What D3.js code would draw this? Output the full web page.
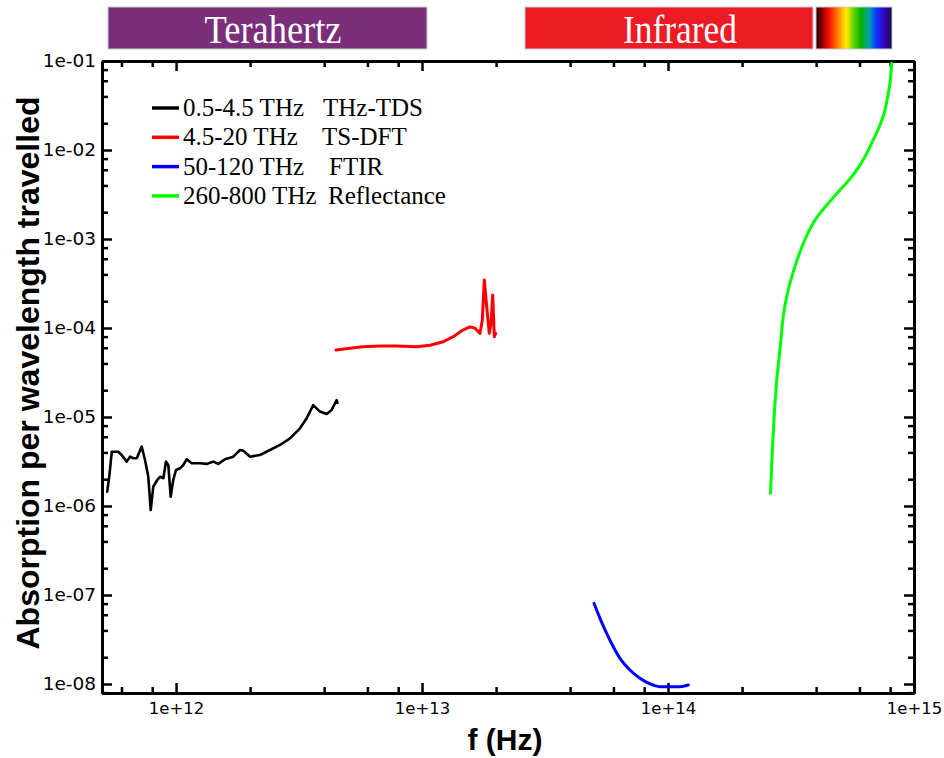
<!DOCTYPE html>
<html><head><meta charset="utf-8">
<script src="https://cdn.jsdelivr.net/npm/d3@7"></script>
<style>body{margin:0;background:#fff}</style>
</head><body><svg id="c" width="944" height="758"></svg>
<script>
// ---- data (frequency in THz, absorption per wavelength) ----
const tdsF = [0.525,0.535,0.548,0.582,0.601,0.630,0.650,0.670,0.692,0.725,0.748,0.771,0.789,0.808,0.839,0.861,0.888,0.910,0.930,0.951,0.974,1.000,1.038,1.070,1.105,1.158,1.251,1.332,1.417,1.485,1.581,1.709,1.820,1.877,2.000,2.194,2.409,2.646,2.905,3.190,3.396,3.612,3.846,4.095,4.291,4.498,4.530];
const tdsV = [1.45e-6,2.13e-6,4.07e-6,4.07e-6,3.74e-6,3.15e-6,3.58e-6,3.44e-6,3.44e-6,4.64e-6,3.29e-6,2.13e-6,9.0e-7,1.65e-6,1.96e-6,2.13e-6,2.05e-6,3.15e-6,2.89e-6,1.27e-6,1.96e-6,2.54e-6,2.65e-6,2.89e-6,3.35e-6,3.02e-6,3.02e-6,2.97e-6,3.15e-6,2.97e-6,3.35e-6,3.58e-6,4.26e-6,4.18e-6,3.58e-6,3.74e-6,4.26e-6,4.85e-6,5.76e-6,7.46e-6,9.67e-6,1.36e-5,1.15e-5,1.08e-5,1.20e-5,1.55e-5,1.44e-5];
const dftF = [4.47,5.09,5.77,6.75,7.89,9.51,10.77,12.20,13.40,14.50,15.66,16.42,17.21,17.58,17.91,18.32,18.77,19.07,19.38,19.67,19.93];
const dftV = [5.66e-5,5.91e-5,6.16e-5,6.28e-5,6.28e-5,6.16e-5,6.39e-5,7.01e-5,7.98e-5,9.33e-5,1.03e-4,9.92e-5,8.72e-5,1.23e-4,3.46e-4,1.74e-4,8.72e-5,1.13e-4,2.35e-4,7.98e-5,8.72e-5];
const ftirF = [50.0,52.9,56.3,59.9,63.8,70.0,76.9,84.5,92.7,101.8,111.8,120.9];
const ftirV = [8.07e-8,5.47e-8,3.71e-8,2.62e-8,1.94e-8,1.437e-8,1.159e-8,1.0e-8,9.33e-9,9.33e-9,9.33e-9,9.74e-9];
const reflF = [261,264,270,276,285,294,308,328,355,389,442,500,566,632,683,727,762,786,804,811];
const reflV = [1.389e-6,3.02e-6,1.008e-5,2.39e-5,5.66e-5,1.34e-4,2.67e-4,4.88e-4,8.95e-4,1.50e-3,2.41e-3,3.55e-3,5.24e-3,8.41e-3,1.296e-2,1.91e-2,2.81e-2,4.34e-2,6.66e-2,9.42e-2];

const seriesRanges = ["0.5-4.5 THz","4.5-20 THz","50-120 THz","260-800 THz"];
const seriesMethods = ["THz-TDS","TS-DFT","FTIR","Reflectance"];
const seriesColors = ["#000000","#ff0000","#0000ff","#00ff00"];

const xTickValues = [1e12,1e13,1e14,1e15];
const xTickLabels = ["1e+12","1e+13","1e+14","1e+15"];
const yTickValues = [1e-1,1e-2,1e-3,1e-4,1e-5,1e-6,1e-7,1e-8];
const yTickLabels = ["1e-01","1e-02","1e-03","1e-04","1e-05","1e-06","1e-07","1e-08"];
const bandLabels = ["Terahertz","Infrared"];
const xTitle = "f (Hz)";
const yTitle = "Absorption per wavelength travelled";

// ---- layout ----
const svg = d3.select("#c");
const L = 102, R = 914, T = 61, B = 693;
const x = d3.scaleLog().domain([5e11, 1e15]).range([L, R]);
const y = d3.scaleLog().domain([7.92e-9, 1e-1]).range([B, T]);

const minorX = [];
for (let e = 11; e <= 14; e++) for (const m of [2,4,6,8]) { const v = m*Math.pow(10,e); if (v >= 5e11 && v <= 1e15) minorX.push(v); }
const minorY = [];
for (let e = -9; e <= -2; e++) for (const m of [2,4,6,8]) { const v = m*Math.pow(10,e); if (v >= 7.92e-9 && v <= 1e-1) minorY.push(v); }

// top bands
const defs = svg.append("defs");
const g = defs.append("linearGradient").attr("id","spec");
[[0,"#1a0000"],[0.08,"#900000"],[0.18,"#ff1000"],[0.3,"#ff8c00"],[0.4,"#ffee00"],[0.5,"#60d000"],[0.6,"#00b000"],[0.7,"#00a0b0"],[0.8,"#1030ff"],[0.9,"#3a00c0"],[1,"#10103a"]]
  .forEach(s => g.append("stop").attr("offset", s[0]).attr("stop-color", s[1]));

const bands = [
  {x0:108, x1:427, fill:"#7b2f7b", label:bandLabels[0], cx:273, len:137},
  {x0:525, x1:813, fill:"#ed1c24", label:bandLabels[1], cx:680, len:114}
];
bands.forEach(b => {
  svg.append("rect").attr("x", b.x0).attr("y", 7).attr("width", b.x1-b.x0).attr("height", 42)
    .attr("fill", b.fill).attr("stroke", "#c8c8c8").attr("stroke-width", 1);
  svg.append("text").attr("x", b.cx).attr("y", 43).attr("text-anchor","middle")
    .attr("font-family","'Liberation Serif','Times New Roman',serif").attr("font-size", 40)
    .attr("textLength", b.len).attr("lengthAdjust","spacingAndGlyphs")
    .attr("fill","#fff").text(b.label);
});
svg.append("rect").attr("x", 816).attr("y", 7).attr("width", 76).attr("height", 42)
  .attr("fill","url(#spec)").attr("stroke","#c8c8c8").attr("stroke-width",1);

// axes
const tickFont = "'DejaVu Sans',Verdana,sans-serif";
function styleAxis(sel, fs){
  sel.selectAll("path.domain").attr("stroke","#000").attr("stroke-width",3);
  sel.selectAll(".tick line").attr("stroke","#000").attr("stroke-width",2.5);
  sel.selectAll("text").attr("font-family",tickFont).attr("font-size",fs || 16).attr("fill","#000");
}
const xLab = v => xTickLabels[xTickValues.indexOf(v)];
const yLab = v => yTickLabels[yTickValues.indexOf(v)];

// minor ticks
svg.append("g").attr("transform",`translate(0,${B})`).call(d3.axisBottom(x).tickValues(minorX).tickSize(-6).tickSizeOuter(0).tickFormat("")).call(styleAxis);
svg.append("g").attr("transform",`translate(0,${T})`).call(d3.axisTop(x).tickValues(minorX).tickSize(-6).tickSizeOuter(0).tickFormat("")).call(styleAxis);
svg.append("g").attr("transform",`translate(${L},0)`).call(d3.axisLeft(y).tickValues(minorY).tickSize(-6).tickSizeOuter(0).tickFormat("")).call(styleAxis);
svg.append("g").attr("transform",`translate(${R},0)`).call(d3.axisRight(y).tickValues(minorY).tickSize(-6).tickSizeOuter(0).tickFormat("")).call(styleAxis);
// major ticks
svg.append("g").attr("transform",`translate(0,${B})`).call(d3.axisBottom(x).tickValues(xTickValues).tickSize(-10).tickSizeOuter(0).tickPadding(9).tickFormat(xLab)).call(styleAxis, 16.5);
svg.append("g").attr("transform",`translate(0,${T})`).call(d3.axisTop(x).tickValues(xTickValues).tickSize(-10).tickSizeOuter(0).tickFormat("")).call(styleAxis);
svg.append("g").attr("transform",`translate(${L},0)`).call(d3.axisLeft(y).tickValues(yTickValues).tickSize(-10).tickSizeOuter(0).tickPadding(6).tickFormat(yLab)).call(styleAxis, 18.5);
svg.append("g").attr("transform",`translate(${R},0)`).call(d3.axisRight(y).tickValues(yTickValues).tickSize(-10).tickSizeOuter(0).tickFormat("")).call(styleAxis);

// axis titles
svg.append("text").attr("x", 505).attr("y", 750).attr("text-anchor","middle")
  .attr("font-family","'Liberation Sans',Arial,sans-serif").attr("font-weight","bold").attr("font-size",30)
  .text(xTitle);
svg.append("text").attr("transform","translate(39,373) rotate(-90)").attr("text-anchor","middle")
  .attr("font-family","'Liberation Sans',Arial,sans-serif").attr("font-weight","bold").attr("font-size",32)
  .text(yTitle);

// lines
const series = [
  {f: tdsF, v: tdsV, curve: d3.curveLinear, w: 2.6},
  {f: dftF, v: dftV, curve: d3.curveLinear, w: 3},
  {f: ftirF, v: ftirV, curve: d3.curveMonotoneX, w: 3},
  {f: reflF, v: reflV, curve: d3.curveMonotoneX, w: 3}
];
series.forEach((s, i) => {
  const pts = s.f.map((f, k) => [f*1e12, s.v[k]]);
  const line = d3.line().x(d => x(d[0])).y(d => y(d[1])).curve(s.curve);
  svg.append("path").attr("d", line(pts)).attr("fill","none")
    .attr("stroke", seriesColors[i]).attr("stroke-width", s.w).attr("stroke-linejoin","round").attr("stroke-linecap","round");
});

// legend
const methodX = [323, 322, 329, 328];
const lg = svg.append("g");
seriesRanges.forEach((r, i) => {
  const cy = 108 + 29.3*i;
  lg.append("line").attr("x1",152).attr("x2",179).attr("y1",cy).attr("y2",cy)
    .attr("stroke", seriesColors[i]).attr("stroke-width",3.5);
  const t = lg.append("text").attr("y", cy+8)
    .attr("font-family","'Liberation Serif','Times New Roman',serif").attr("font-size",25).attr("fill","#000");
  t.append("tspan").attr("x",183).text(r);
  t.append("tspan").attr("x",methodX[i]).text(seriesMethods[i]);
});
</script>
</body></html>
